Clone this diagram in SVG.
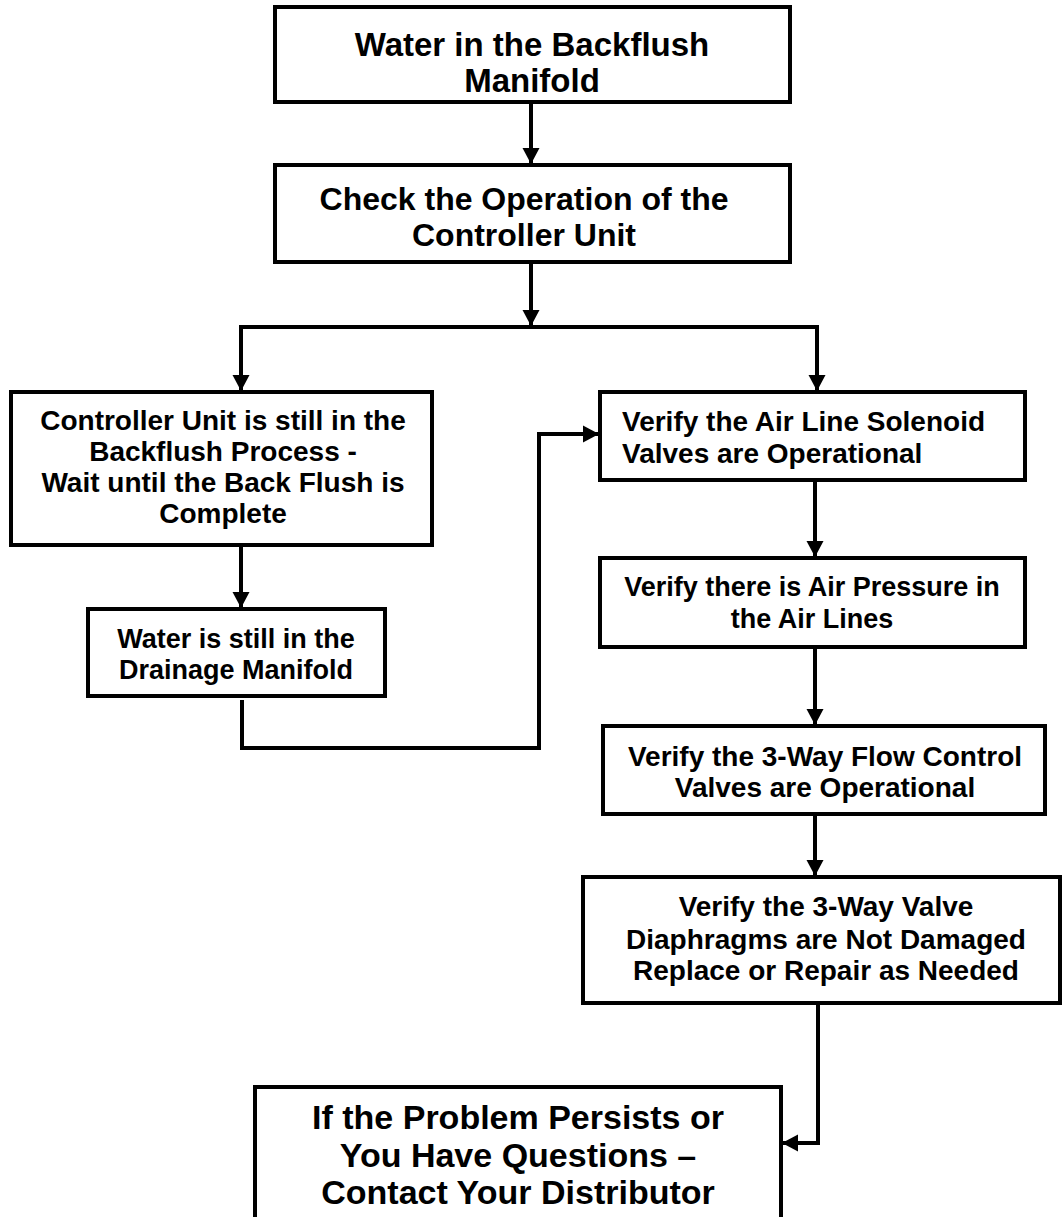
<svg xmlns="http://www.w3.org/2000/svg" width="1062" height="1217" viewBox="0 0 1062 1217">
<style>
.box{fill:#fff;stroke:#000;stroke-width:4}
.t{font-family:"Liberation Sans",Arial,sans-serif;font-weight:bold;fill:#000;text-anchor:middle}
.l{font-size:33px}
.k{font-size:32px}
.m{font-size:27px}
.n{font-size:28px}
.b{font-size:34px}
.c{fill:none;stroke:#000;stroke-width:4}
</style>
<defs>
<marker id="ah" markerUnits="userSpaceOnUse" markerWidth="18" markerHeight="18" viewBox="0 0 18 18" refX="16" refY="9" orient="auto">
<path d="M0,0.5 L16,9 L0,17.5 Z" fill="#000"/>
</marker>
</defs>
<rect width="1062" height="1217" fill="#fff"/>
<g id="connectors">
<line class="c" x1="531" y1="102" x2="531" y2="164" marker-end="url(#ah)"/>
<line class="c" x1="531" y1="262" x2="531" y2="326" marker-end="url(#ah)"/>
<polyline class="c" points="241,391 241,327 817,327 817,391" marker-end="url(#ah)"/>
<line class="c" x1="241" y1="340" x2="241" y2="391" marker-end="url(#ah)"/>
<line class="c" x1="241" y1="545" x2="241" y2="608" marker-end="url(#ah)"/>
<polyline class="c" points="242,700 242,748 539,748 539,434 599,434" marker-end="url(#ah)"/>
<line class="c" x1="815" y1="480" x2="815" y2="557" marker-end="url(#ah)"/>
<line class="c" x1="815" y1="647" x2="815" y2="725" marker-end="url(#ah)"/>
<line class="c" x1="815" y1="814" x2="815" y2="876" marker-end="url(#ah)"/>
<polyline class="c" points="818,1003 818,1143 782,1143" marker-end="url(#ah)"/>
</g>
<g id="n1">
<rect class="box" x="275" y="7" width="515" height="95"/>
<text class="t l" x="532" y="56">Water in the Backflush</text>
<text class="t l" x="532" y="92">Manifold</text>
</g>
<g id="n2">
<rect class="box" x="275" y="165" width="515" height="97"/>
<text class="t k" x="524" y="210">Check the Operation of the</text>
<text class="t k" x="524" y="246">Controller Unit</text>
</g>
<g id="n3">
<rect class="box" x="11" y="392" width="421" height="153"/>
<text class="t n" x="223" y="430">Controller Unit is still in the</text>
<text class="t n" x="223" y="461">Backflush Process -</text>
<text class="t n" x="223" y="492">Wait until the Back Flush is</text>
<text class="t n" x="223" y="523">Complete</text>
</g>
<g id="n4">
<rect class="box" x="88" y="609" width="297" height="87"/>
<text class="t m" x="236" y="648">Water is still in the</text>
<text class="t m" x="236" y="679">Drainage Manifold</text>
</g>
<g id="n5">
<rect class="box" x="600" y="392" width="425" height="88"/>
<text class="t n" x="622" y="431" style="text-anchor:start">Verify the Air Line Solenoid</text>
<text class="t n" x="622" y="463" style="text-anchor:start">Valves are Operational</text>
</g>
<g id="n6">
<rect class="box" x="600" y="558" width="425" height="89"/>
<text class="t m" x="812" y="596">Verify there is Air Pressure in</text>
<text class="t m" x="812" y="628">the Air Lines</text>
</g>
<g id="n7">
<rect class="box" x="603" y="726" width="442" height="88"/>
<text class="t n" x="825" y="766">Verify the 3-Way Flow Control</text>
<text class="t n" x="825" y="797">Valves are Operational</text>
</g>
<g id="n8">
<rect class="box" x="583" y="877" width="477" height="126"/>
<text class="t n" x="826" y="916">Verify the 3-Way Valve</text>
<text class="t n" x="826" y="949">Diaphragms are Not Damaged</text>
<text class="t n" x="826" y="980">Replace or Repair as Needed</text>
</g>
<g id="n9">
<rect class="box" x="255" y="1087" width="526" height="140"/>
<text class="t b" x="518" y="1129">If the Problem Persists or</text>
<text class="t b" x="518" y="1167">You Have Questions –</text>
<text class="t b" x="518" y="1204">Contact Your Distributor</text>
</g>
</svg>
